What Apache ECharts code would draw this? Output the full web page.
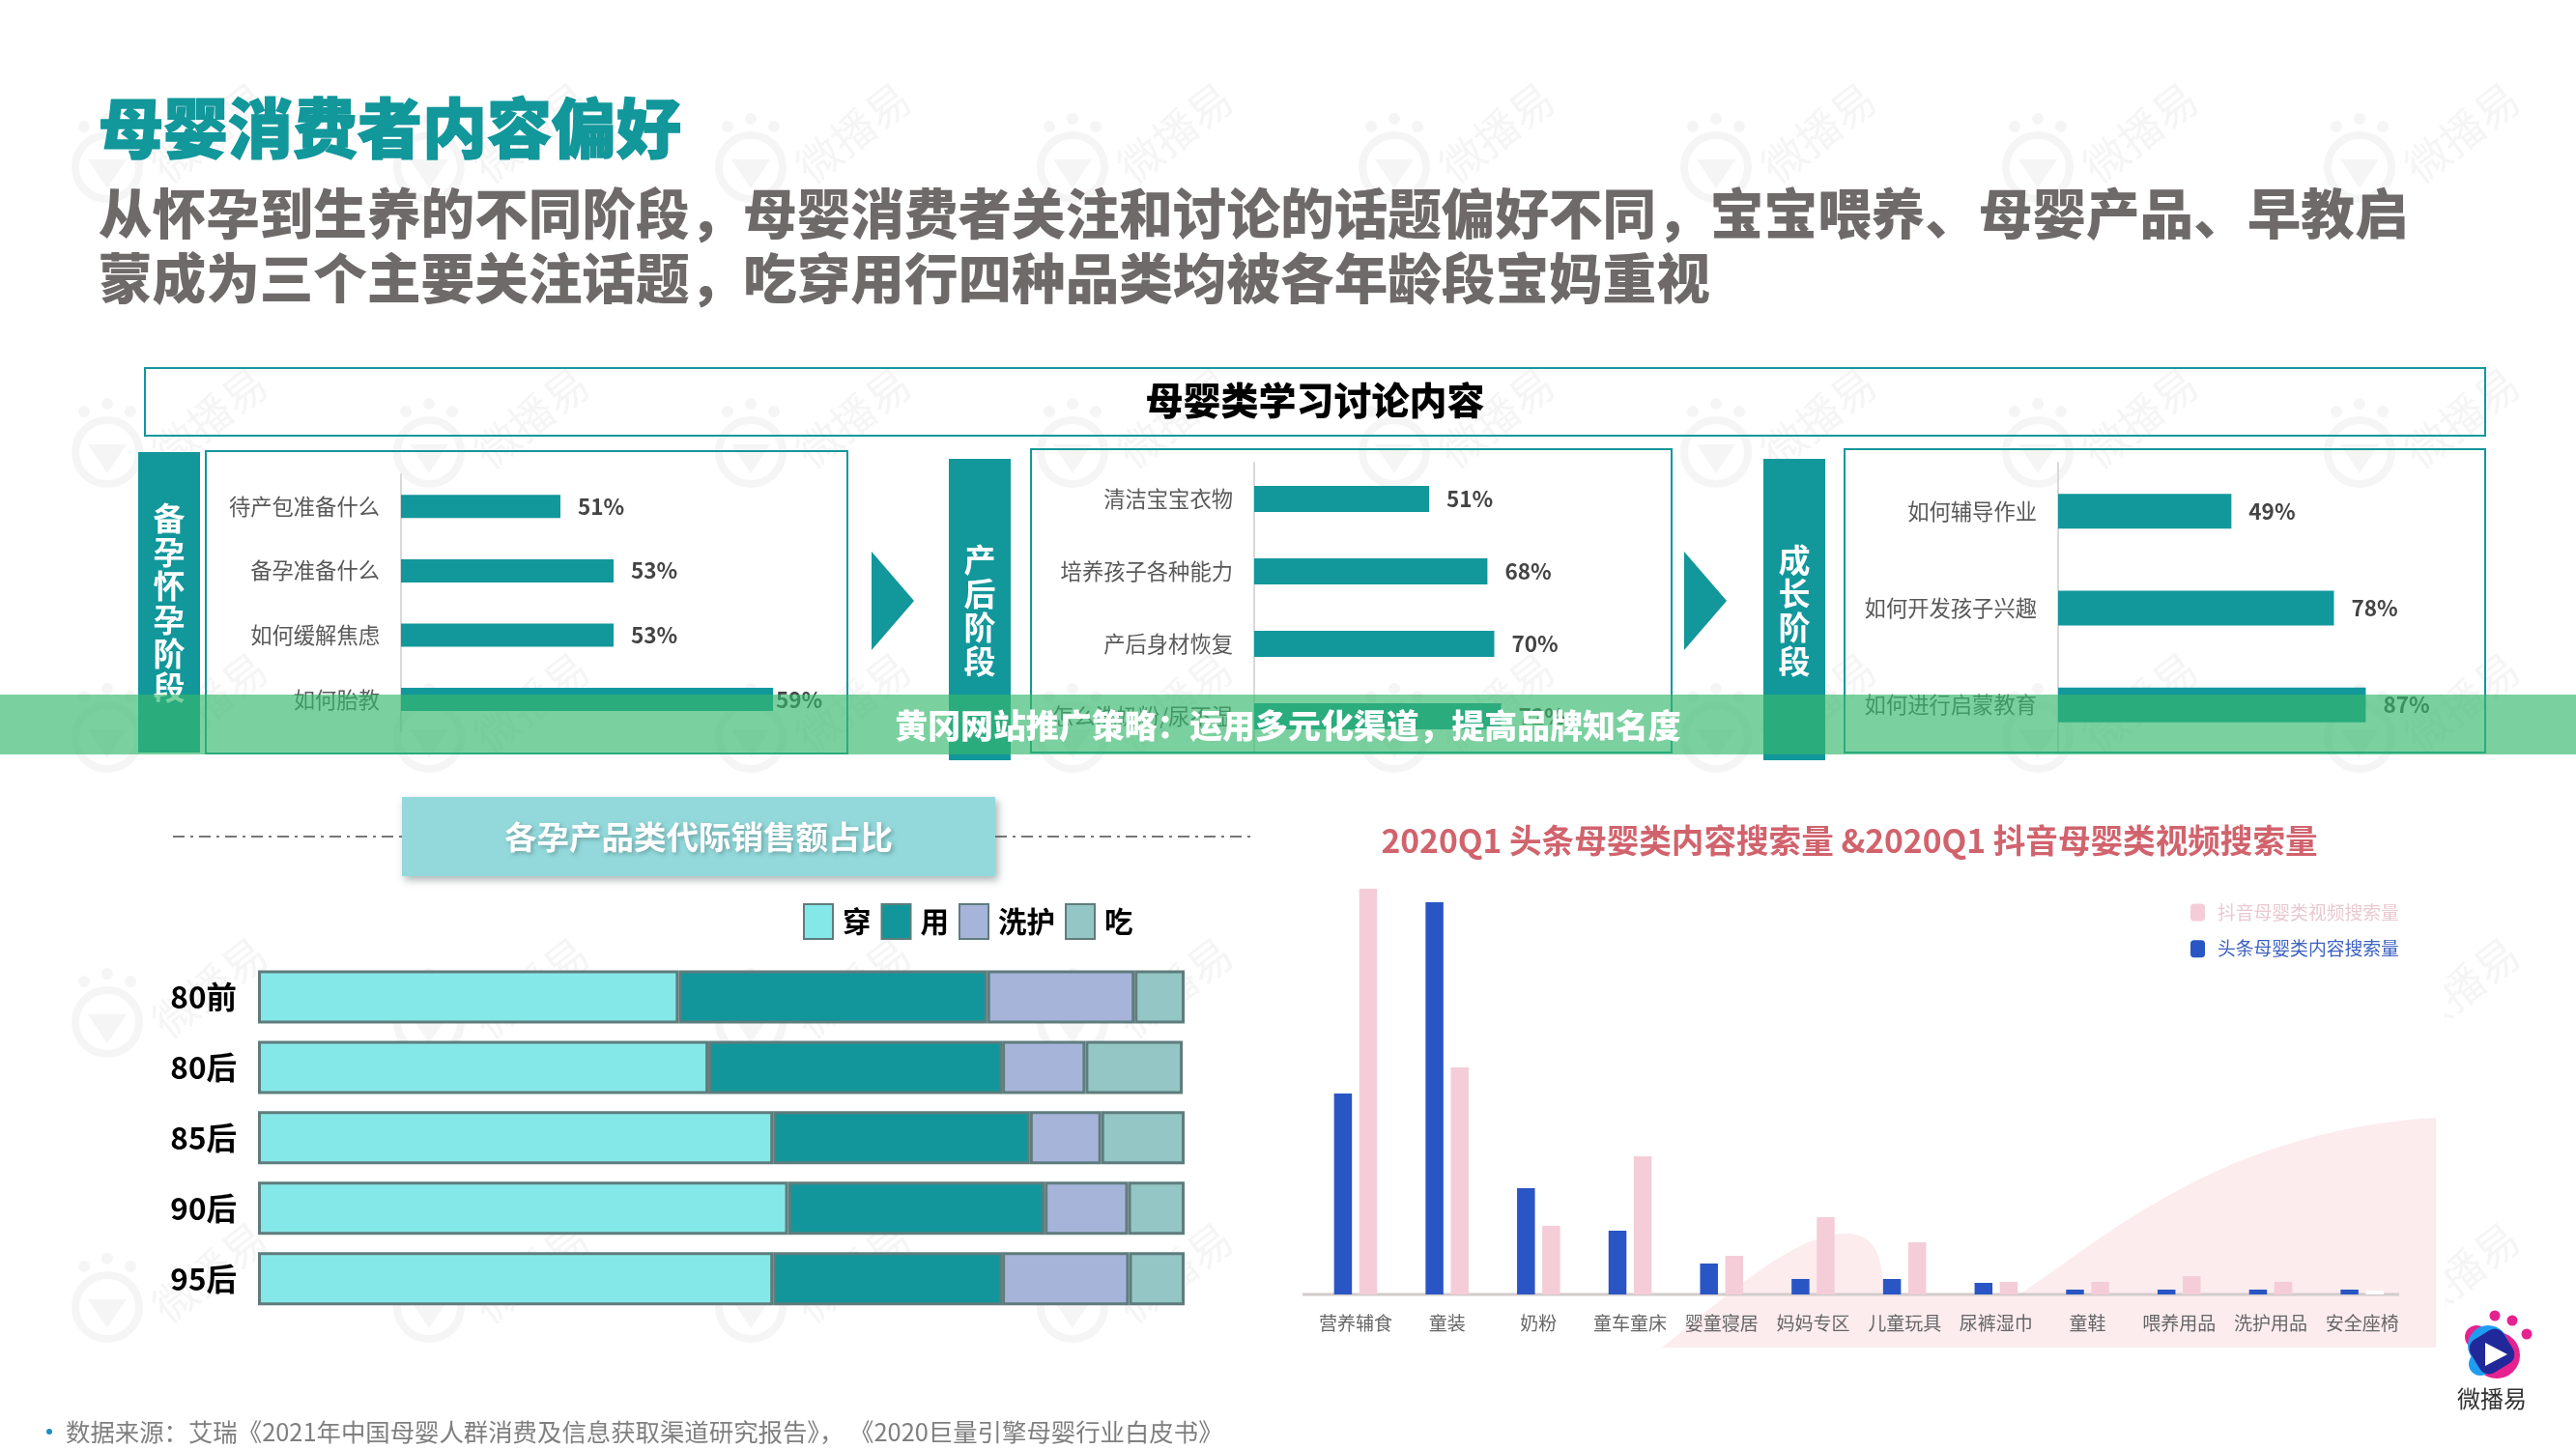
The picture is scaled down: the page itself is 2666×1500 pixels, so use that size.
<!DOCTYPE html>
<html lang="zh">
<head>
<meta charset="utf-8">
<title>母婴消费者内容偏好</title>
<script src="https://cdn.jsdelivr.net/npm/echarts@6/dist/echarts.min.js"></script>
<style>html,body{margin:0;padding:0;background:#fff}#c{width:2666px;height:1500px}</style>
</head>
<body>
<div id="c"></div>
<script>
// ---------- data ----------
const pregnancyTopics = ['待产包准备什么', '备孕准备什么', '如何缓解焦虑', '如何胎教'];
const pregnancyValues = [51, 53, 53, 59];
const postnatalTopics = ['清洁宝宝衣物', '培养孩子各种能力', '产后身材恢复', '怎么洗奶粉/尿不湿'];
const postnatalValues = [51, 68, 70, 72];
const growthTopics = ['如何辅导作业', '如何开发孩子兴趣', '如何进行启蒙教育'];
const growthValues = [49, 78, 87];

const generations = ['80前', '80后', '85后', '90后', '95后'];
const wearShare = [45.4, 48.6, 55.6, 57.2, 55.6];
const useShare = [33.3, 31.7, 27.7, 27.7, 24.7];
const careShare = [15.9, 9.0, 7.7, 9.0, 13.7];
const foodShare = [5.4, 10.5, 9.0, 6.1, 6.0];

const searchCategories = ['营养辅食', '童装', '奶粉', '童车童床', '婴童寝居', '妈妈专区', '儿童玩具', '尿裤湿巾', '童鞋', '喂养用品', '洗护用品', '安全座椅'];
const toutiaoSearch = [208, 406, 110, 66, 32, 16, 16, 12, 5, 5, 5, 5];
const douyinSearch = [420, 235, 71, 143, 40, 80, 54, 13, 13, 19, 13, 4];

const titleText = '母婴消费者内容偏好';
const subtitleLines = ['从怀孕到生养的不同阶段，母婴消费者关注和讨论的话题偏好不同，宝宝喂养、母婴产品、早教启', '蒙成为三个主要关注话题，吃穿用行四种品类均被各年龄段宝妈重视'];
const sectionText = '母婴类学习讨论内容';
const bannerText = '黄冈网站推广策略：运用多元化渠道，提高品牌知名度';
const stackTitle = '各孕产品类代际销售额占比';
const searchTitle = '2020Q1 头条母婴类内容搜索量 &2020Q1 抖音母婴类视频搜索量';
const sourceText = '数据来源：艾瑞《2021年中国母婴人群消费及信息获取渠道研究报告》， 《2020巨量引擎母婴行业白皮书》';

// ---------- styling ----------
const FONT = '"Noto Sans CJK SC","Noto Sans",sans-serif';
const TEAL = '#12979b';
const g = [];
const txt = (x, y, text, fontSize, fill, o = {}) => ({
  type: 'text', x, y, z: o.z ?? 60, rotation: o.rotation || 0,
  style: Object.assign({ text, fontSize, fill, fontFamily: FONT, fontWeight: o.weight || 'bold', align: o.align || 'left', verticalAlign: 'middle', lineHeight: o.lineHeight }, o.style || {})
});
const box = (x, y, w, h, fill, stroke, o = {}) => ({
  type: 'rect', z: o.z ?? 1, shape: { x, y, width: w, height: h, r: o.r || 0 },
  style: Object.assign({ fill: fill || 'none', stroke: stroke || 'none', lineWidth: o.lw ?? 2 }, o.style || {})
});
const poly = (points, fill, z) => ({ type: 'polygon', z, shape: { points }, style: { fill } });
const dashLine = (x1, x2, y) => ({ type: 'line', z: 1, shape: { x1, y1: y, x2, y2: y }, style: { stroke: '#777', lineWidth: 2, lineDash: [12, 6, 3, 6] } });
const curve = (a, b, c, d) => {
  const out = [];
  for (let i = 0; i <= 24; i++) {
    const t = i / 24, u = 1 - t;
    out.push([0, 1].map(k => u * u * u * a[k] + 3 * u * u * t * b[k] + 3 * u * t * t * c[k] + t * t * t * d[k]));
  }
  return out;
};

// watermark grid
[111, 444, 777, 1110, 1443, 1776, 2109, 2442].forEach(cx => {
  [173, 468, 763, 1058, 1353].forEach(cy => {
    const W = '#f5f5f5';
    g.push({ type: 'circle', z: 0, shape: { cx, cy, r: 33 }, style: { fill: 'none', stroke: W, lineWidth: 8 } });
    g.push(poly([[cx - 20, cy - 8], [cx + 20, cy - 8], [cx, cy + 22]], W, 0));
    [[-24, -42], [0, -50], [24, -42]].forEach(d => g.push({ type: 'circle', z: 0, shape: { cx: cx + d[0], cy: cy + d[1], r: 6 }, style: { fill: W } }));
    g.push(txt(cx + 106, cy - 36, '微播易', 45, W, { align: 'center', weight: 'normal', rotation: 0.66, z: 0 }));
  });
});
// white backing under the lower-right picture
g.push(box(1340, 815, 1190, 580, '#fff', null, { z: 0, lw: 0 }));
// pink decorative shape
const pinkShape = [].concat(
  curve([1720, 1395], [1800, 1330], [1860, 1277], [1911, 1277]),
  curve([1911, 1277], [1940, 1277], [1949, 1300], [1949, 1340]),
  curve([2090, 1340], [2180, 1280], [2300, 1170], [2521, 1157]),
  [[2521, 1395]]
);
g.push(poly(pinkShape, '#fcecee', 1));

// heading
g.push(txt(102, 133, titleText, 67, TEAL, { weight: 900, style: { stroke: TEAL, lineWidth: 1.5 } }));
g.push(txt(102, 221, subtitleLines[0], 55.6, '#6e6a6a', { weight: 900 }));
g.push(txt(102, 288, subtitleLines[1], 55.6, '#6e6a6a', { weight: 900 }));

// section header and panels
g.push(box(150, 381, 2422, 70, 'none', TEAL));
g.push(txt(1361, 414, sectionText, 39, '#000', { align: 'center', weight: 900 }));
g.push(box(143, 468, 64, 311, TEAL));
g.push(box(213, 467, 664, 313, 'none', TEAL));
g.push(box(982, 475, 64, 312, TEAL));
g.push(box(1067, 465, 663, 314, 'none', TEAL));
g.push(box(1825, 475, 64, 312, TEAL));
g.push(box(1909, 465, 663, 314, 'none', TEAL));
g.push(txt(175, 624, '备\n孕\n怀\n孕\n阶\n段', 33, '#fff', { align: 'center', lineHeight: 35, z: 3 }));
g.push(txt(1014, 632, '产\n后\n阶\n段', 33, '#fff', { align: 'center', lineHeight: 35, z: 3 }));
g.push(txt(1857, 632, '成\n长\n阶\n段', 33, '#fff', { align: 'center', lineHeight: 35, z: 3 }));
g.push(poly([[902, 571], [946, 622], [902, 673]], TEAL, 1));
g.push(poly([[1743, 571], [1787, 622], [1743, 673]], TEAL, 1));

// stack chart banner
g.push(dashLine(179, 416, 866));
g.push(dashLine(1030, 1295, 866));
g.push(box(416, 825, 614, 82, '#93d9db', null, { lw: 0, style: { shadowBlur: 8, shadowOffsetX: 3, shadowOffsetY: 4, shadowColor: 'rgba(70,90,90,.45)' } }));
g.push(txt(723, 866, stackTitle, 33.5, '#fff', { align: 'center', style: { textShadowBlur: 4, textShadowOffsetX: 2, textShadowOffsetY: 2, textShadowColor: 'rgba(70,110,110,.5)' } }));

// lower right chart title and baseline
g.push(txt(1914, 870, searchTitle, 33.6, '#d1636d', { align: 'center', weight: 'bold' }));
g.push({ type: 'line', z: 1, shape: { x1: 1348, y1: 1340, x2: 2483, y2: 1340 }, style: { stroke: '#d2cccc', lineWidth: 3 } });

// source note
g.push({ type: 'circle', z: 1, shape: { cx: 51, cy: 1482, r: 3 }, style: { fill: '#1a8fc0' } });
g.push(txt(68, 1482, sourceText, 25.4, '#7f7f7f', { weight: 'normal' }));

// brand mark
g.push({ type: 'circle', z: 5, shape: { cx: 2563, cy: 1384, r: 12 }, style: { fill: '#e6228f' } });
g.push({ type: 'circle', z: 5, shape: { cx: 2584, cy: 1403, r: 24 }, style: { fill: '#e6228f' } });
g.push({ type: 'circle', z: 5, shape: { cx: 2575, cy: 1393, r: 21 }, style: { fill: '#1f9df0' } });
g.push({ type: 'circle', z: 5, shape: { cx: 2567, cy: 1412, r: 12 }, style: { fill: '#1f9df0' } });
g.push({ type: 'rect', z: 5, x: 2579, y: 1399, rotation: 0.55, shape: { x: -20, y: -20, width: 40, height: 40, r: 11 }, style: { fill: '#21289a' } });
g.push(poly([[2572, 1390], [2595, 1402], [2572, 1414]], '#fff', 5));
[[2582, 1362], [2600, 1367], [2615, 1381]].forEach(p => g.push({ type: 'circle', z: 5, shape: { cx: p[0], cy: p[1], r: 5.5 }, style: { fill: '#e6228f' } }));
g.push(txt(2579, 1448, '微播易', 24, '#333', { align: 'center', weight: 'normal' }));

// translucent band over everything
g.push(box(0, 719, 2666, 62, 'rgba(54,183,110,0.66)', null, { z: 100, lw: 0 }));
g.push(txt(1333, 751, bannerText, 33.9, '#fff', { align: 'center', z: 101, weight: 900 }));

// ---------- grids ----------
const panelDefs = [
  { name: '备孕怀孕阶段', cats: pregnancyTopics, vals: pregnancyValues, left: 415, top: 491, width: 412.5, height: 266.4, min: 45, max: 60, bar: 24 },
  { name: '产后阶段', cats: postnatalTopics, vals: postnatalValues, left: 1298, top: 479, width: 355, height: 300, min: 0, max: 100, bar: 27 },
  { name: '成长阶段', cats: growthTopics, vals: growthValues, left: 2130, top: 479, width: 366, height: 300.75, min: 0, max: 100, bar: 36 }
];
const grids = [], xAxes = [], yAxes = [], series = [];
panelDefs.forEach((p, i) => {
  grids.push({ left: p.left, top: p.top, width: p.width, height: p.height, containLabel: false });
  xAxes.push({ type: 'value', gridIndex: i, min: p.min, max: p.max, show: false });
  yAxes.push({
    type: 'category', gridIndex: i, inverse: true, data: p.cats,
    axisTick: { show: false }, axisLine: { show: true, lineStyle: { color: '#d9d9d9', width: 2 } },
    axisLabel: { color: '#595959', fontSize: 22.3, fontFamily: FONT, margin: 22 }
  });
  series.push({
    type: 'bar', name: p.name, xAxisIndex: i, yAxisIndex: i, barWidth: p.bar,
    // the longest bar's label sits tight against the bar in the first panel
    data: p.vals.map(v => (i === 0 && v === 59) ? { value: v, label: { distance: 3 } } : v),
    itemStyle: { color: TEAL },
    label: { show: true, position: 'right', distance: 18, formatter: '{c}%', color: '#444', fontSize: 22.5, fontWeight: 'bold', fontFamily: FONT }
  });
});

// stacked bars
grids.push({ left: 267, top: 995.6, width: 959, height: 364.5 });
xAxes.push({ type: 'value', gridIndex: 3, min: 0, max: 100, show: false });
yAxes.push({
  type: 'category', gridIndex: 3, inverse: true, data: generations,
  axisTick: { show: false }, axisLine: { show: false },
  axisLabel: { color: '#000', fontSize: 31.5, fontWeight: 'bold', fontFamily: FONT, margin: 22 }
});
[['穿', wearShare, '#85e8e8'], ['用', useShare, '#12969b'], ['洗护', careShare, '#a6b4da'], ['吃', foodShare, '#93c6c4']].forEach(s => {
  series.push({
    type: 'bar', name: s[0], stack: 'share', xAxisIndex: 3, yAxisIndex: 3, data: s[1], barWidth: 55,
    itemStyle: { color: s[2], borderColor: '#5f7c7d', borderWidth: 3 }
  });
});

// search volume bars
grids.push({ left: 1355.6, top: 890, width: 1136.4, height: 450 });
xAxes.push({
  type: 'category', gridIndex: 4, data: searchCategories, z: 6,
  axisTick: { show: false }, axisLine: { show: false },
  axisLabel: { color: '#666', fontSize: 19, fontFamily: FONT, margin: 20, interval: 0 }
});
yAxes.push({ type: 'value', gridIndex: 4, min: 0, max: 450, show: false });
series.push({ type: 'bar', name: '头条母婴类内容搜索量', xAxisIndex: 4, yAxisIndex: 4, data: toutiaoSearch, barWidth: 18.5, barGap: '41%', itemStyle: { color: '#2a55c4' } });
series.push({
  type: 'bar', name: '抖音母婴类视频搜索量', xAxisIndex: 4, yAxisIndex: 4, barWidth: 18.5, barGap: '41%', itemStyle: { color: '#f4cdd8' },
  data: douyinSearch.map((v, i) => i === douyinSearch.length - 1 ? { value: v, itemStyle: { color: '#fff' } } : v)
});

const chart = echarts.init(document.getElementById('c'), null, { renderer: 'canvas', width: 2666, height: 1500 });
chart.setOption({
  animation: false,
  backgroundColor: '#fff',
  textStyle: { fontFamily: FONT },
  graphic: { elements: g },
  grid: grids, xAxis: xAxes, yAxis: yAxes, series,
  legend: [
    {
      left: 831, top: 935, padding: 0, icon: 'rect', itemWidth: 30, itemHeight: 36, itemGap: 10, selectedMode: false,
      data: ['穿', '用', '洗护', '吃'],
      textStyle: { color: '#000', fontSize: 29.5, fontWeight: 'bold', fontFamily: FONT, padding: [0, 0, 0, 5] }
    },
    {
      left: 2267, top: 935, padding: 0, orient: 'vertical', itemWidth: 15, itemHeight: 18, itemGap: 19, icon: 'roundRect', selectedMode: false,
      data: [
        { name: '抖音母婴类视频搜索量', textStyle: { color: '#e9c9d2' } },
        { name: '头条母婴类内容搜索量', textStyle: { color: '#3d62c0' } }
      ],
      textStyle: { fontSize: 18.8, fontFamily: FONT, padding: [0, 0, 0, 8] }
    }
  ]
});
</script>
</body>
</html>
